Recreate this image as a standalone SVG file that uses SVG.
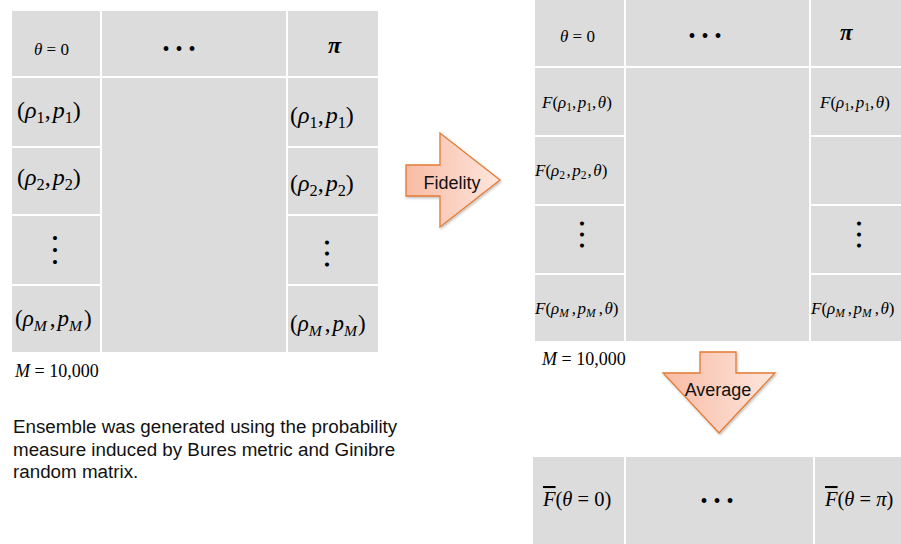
<svg xmlns="http://www.w3.org/2000/svg" width="901" height="544" viewBox="0 0 901 544">
<style>
.cell{fill:#dcdcdc;stroke:#fff;stroke-width:2}
.m{font-family:"Liberation Serif","Times New Roman",serif;fill:#000}
.i{font-style:italic}
.s{font-size:0.68em}
.dot{font-family:"Liberation Serif",serif;font-size:20px;fill:#000}
.vd{font-family:"Liberation Serif",serif;font-size:17px;fill:#000}
.lbl{font-family:"Liberation Sans",Arial,sans-serif;font-size:18px;fill:#111}
.note{font-family:"Liberation Sans",Arial,sans-serif;font-size:18.8px;fill:#111}
.arr{fill:url(#g);stroke:#e27b34;stroke-width:1.3;stroke-linejoin:miter}
</style>
<defs>
<linearGradient id="g" x1="0" y1="0" x2="1" y2="0">
<stop offset="0" stop-color="#f8bba4"/>
<stop offset="1" stop-color="#fee6dd"/>
</linearGradient>
<filter id="sh" x="-10%" y="-10%" width="130%" height="130%">
<feDropShadow dx="1" dy="1.5" stdDeviation="1.2" flood-color="#000" flood-opacity="0.25"/>
</filter>
</defs>
<rect width="901" height="544" fill="#fff"/>

<g id="ensemble-table">
<rect class="cell" x="11" y="10" width="90" height="67"/>
<rect class="cell" x="101" y="10" width="186" height="67"/>
<rect class="cell" x="287" y="10" width="92" height="67"/>
<rect class="cell" x="11" y="77" width="90" height="70"/>
<rect class="cell" x="11" y="147" width="90" height="68"/>
<rect class="cell" x="11" y="215" width="90" height="70"/>
<rect class="cell" x="11" y="285" width="90" height="68"/>
<rect class="cell" x="101" y="77" width="186" height="276"/>
<rect class="cell" x="287" y="77" width="92" height="70"/>
<rect class="cell" x="287" y="147" width="92" height="68"/>
<rect class="cell" x="287" y="215" width="92" height="70"/>
<rect class="cell" x="287" y="285" width="92" height="68"/>
<text class="m" x="34" y="55" font-size="17"><tspan class="i">θ</tspan> = 0</text>
<text class="dot" x="182" y="55.5" text-anchor="middle" letter-spacing="6">•••</text>
<text class="m i" x="328" y="53" font-size="24" font-weight="bold">π</text>
<text class="m" x="17" y="118" font-size="24">(<tspan class="i">ρ</tspan><tspan class="s" dy="5">1</tspan><tspan dy="-5">,</tspan><tspan class="i" dx="2">p</tspan><tspan class="s" dy="5">1</tspan><tspan dy="-5">)</tspan></text>
<text class="m" x="290" y="123" font-size="24">(<tspan class="i">ρ</tspan><tspan class="s" dy="5">1</tspan><tspan dy="-5">,</tspan><tspan class="i" dx="2">p</tspan><tspan class="s" dy="5">1</tspan><tspan dy="-5">)</tspan></text>
<text class="m" x="17" y="185" font-size="24">(<tspan class="i">ρ</tspan><tspan class="s" dy="5">2</tspan><tspan dy="-5">,</tspan><tspan class="i" dx="2">p</tspan><tspan class="s" dy="5">2</tspan><tspan dy="-5">)</tspan></text>
<text class="m" x="290" y="191" font-size="24">(<tspan class="i">ρ</tspan><tspan class="s" dy="5">2</tspan><tspan dy="-5">,</tspan><tspan class="i" dx="2">p</tspan><tspan class="s" dy="5">2</tspan><tspan dy="-5">)</tspan></text>
<text class="vd" x="58" y="256.4" text-anchor="middle" letter-spacing="6" transform="rotate(90 55 250)">•••</text>
<text class="vd" x="330" y="259.4" text-anchor="middle" letter-spacing="5" transform="rotate(90 327 253)">•••</text>
<text class="m" x="15" y="326" font-size="23">(<tspan class="i">ρ</tspan><tspan class="s i" dy="5">M</tspan><tspan dy="-5" dx="3">,</tspan><tspan class="i" dx="2">p</tspan><tspan class="s i" dy="5">M</tspan><tspan dy="-5" dx="2">)</tspan></text>
<text class="m" x="290" y="331" font-size="23">(<tspan class="i">ρ</tspan><tspan class="s i" dy="5">M</tspan><tspan dy="-5" dx="3">,</tspan><tspan class="i" dx="2">p</tspan><tspan class="s i" dy="5">M</tspan><tspan dy="-5" dx="1">)</tspan></text>
</g>

<g id="ensemble-size">
<text class="m" x="15" y="377" font-size="18"><tspan class="i">M</tspan> = 10,000</text>
</g>

<g id="ensemble-note">
<text class="note" x="13" y="433">Ensemble was generated using the probability</text>
<text class="note" x="13" y="455.5">measure induced by Bures metric and Ginibre</text>
<text class="note" x="13" y="478">random matrix.</text>
</g>

<g id="fidelity-table">
<rect class="cell" x="534" y="-2" width="91" height="69"/>
<rect class="cell" x="625" y="-2" width="185" height="69"/>
<rect class="cell" x="810" y="-2" width="93" height="69"/>
<rect class="cell" x="534" y="67" width="91" height="69"/>
<rect class="cell" x="534" y="136" width="91" height="69"/>
<rect class="cell" x="534" y="205" width="91" height="69"/>
<rect class="cell" x="534" y="274" width="91" height="68"/>
<rect class="cell" x="625" y="67" width="185" height="275"/>
<rect class="cell" x="810" y="67" width="93" height="69"/>
<rect class="cell" x="810" y="136" width="93" height="69"/>
<rect class="cell" x="810" y="205" width="93" height="69"/>
<rect class="cell" x="810" y="274" width="93" height="68"/>
<text class="m" x="560" y="42" font-size="17"><tspan class="i">θ</tspan> = 0</text>
<text class="dot" x="708" y="42.5" text-anchor="middle" letter-spacing="6">•••</text>
<text class="m i" x="840" y="40" font-size="23" font-weight="bold">π</text>
<text class="m" x="542" y="108" font-size="17"><tspan class="i">F</tspan>(<tspan class="i">ρ</tspan><tspan class="s" dy="3">1</tspan><tspan dy="-3">,</tspan><tspan class="i" dx="1.5">p</tspan><tspan class="s" dy="3">1</tspan><tspan dy="-3">,</tspan><tspan class="i" dx="1.5">θ</tspan>)</text>
<text class="m" x="820" y="108" font-size="17"><tspan class="i">F</tspan>(<tspan class="i">ρ</tspan><tspan class="s" dy="3">1</tspan><tspan dy="-3">,</tspan><tspan class="i" dx="1.5">p</tspan><tspan class="s" dy="3">1</tspan><tspan dy="-3">,</tspan><tspan class="i" dx="1.5">θ</tspan>)</text>
<text class="m" x="535" y="176" font-size="17"><tspan class="i">F</tspan>(<tspan class="i">ρ</tspan><tspan class="s" dy="3">2</tspan><tspan dy="-3" dx="1.5">,</tspan><tspan class="i" dx="1.5">p</tspan><tspan class="s" dy="3">2</tspan><tspan dy="-3" dx="1">,</tspan><tspan class="i" dx="1.5">θ</tspan>)</text>
<text class="vd" x="585" y="240.4" text-anchor="middle" letter-spacing="5" transform="rotate(90 582 234)">•••</text>
<text class="vd" x="862" y="240.4" text-anchor="middle" letter-spacing="5" transform="rotate(90 859 234)">•••</text>
<text class="m" x="535" y="314" font-size="17"><tspan class="i">F</tspan>(<tspan class="i">ρ</tspan><tspan class="s i" dy="3">M</tspan><tspan dy="-3" dx="3">,</tspan><tspan class="i" dx="1.5">p</tspan><tspan class="s i" dy="3">M</tspan><tspan dy="-3" dx="3">,</tspan><tspan class="i" dx="1.5">θ</tspan>)</text>
<text class="m" x="811" y="314" font-size="17"><tspan class="i">F</tspan>(<tspan class="i">ρ</tspan><tspan class="s i" dy="3">M</tspan><tspan dy="-3" dx="3">,</tspan><tspan class="i" dx="1.5">p</tspan><tspan class="s i" dy="3">M</tspan><tspan dy="-3" dx="3">,</tspan><tspan class="i" dx="1.5">θ</tspan>)</text>
</g>

<g id="fidelity-size">
<text class="m" x="542" y="365" font-size="18"><tspan class="i">M</tspan> = 10,000</text>
</g>

<g id="average-table">
<rect class="cell" x="532" y="456" width="93" height="90"/>
<rect class="cell" x="625" y="456" width="189" height="90"/>
<rect class="cell" x="814" y="456" width="89" height="90"/>
<text class="m" x="543" y="506" font-size="20.5"><tspan class="i" text-decoration="overline">F</tspan>(<tspan class="i">θ</tspan> = 0)</text>
<text class="dot" x="720" y="507.5" text-anchor="middle" letter-spacing="6">•••</text>
<text class="m" x="825" y="506" font-size="20.5"><tspan class="i" text-decoration="overline">F</tspan>(<tspan class="i">θ</tspan> = <tspan class="i">π</tspan>)</text>
</g>

<g id="connectors">
<g id="arrow-fidelity">
<polygon class="arr" filter="url(#sh)" points="406,165 440,165 440,133 500,180 440,227 440,196 406,196"/>
<text class="lbl" x="452" y="189" text-anchor="middle">Fidelity</text>
</g>
<g id="arrow-average">
<polygon class="arr" filter="url(#sh)" points="700,352 736,352 736,373 775,373 719,433 663,373 700,373"/>
<text class="lbl" x="718" y="396" text-anchor="middle">Average</text>
</g>
</g>
</svg>
